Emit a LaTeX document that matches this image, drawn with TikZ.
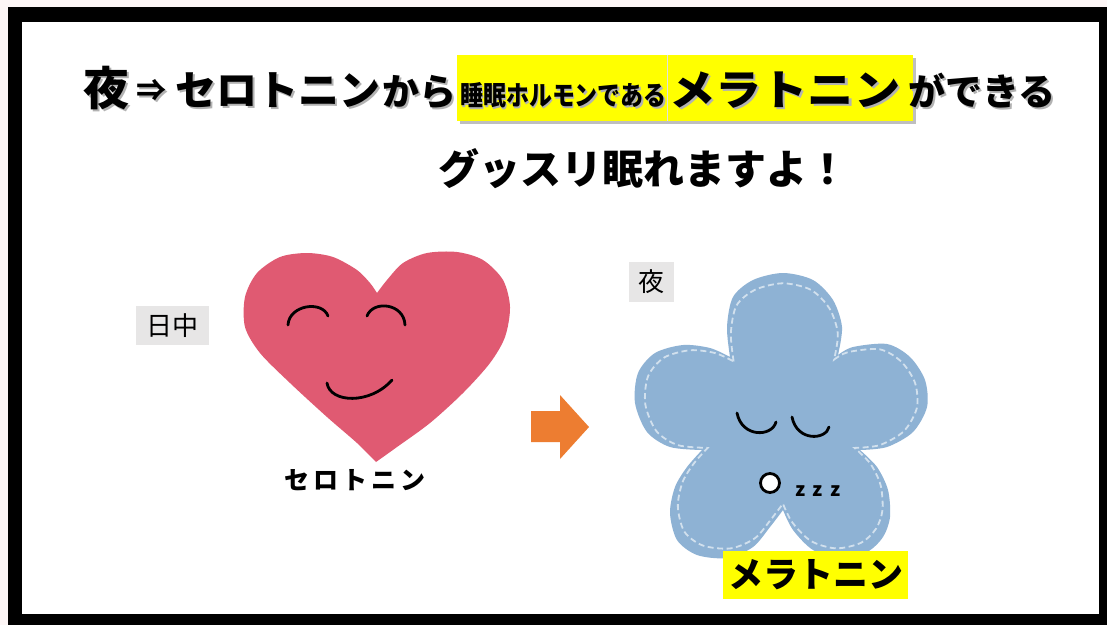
\documentclass[tikz,border=0pt]{standalone}
\usepackage{fontspec}
\setmainfont{Noto Sans CJK JP}
\usetikzlibrary{calc}

\definecolor{pagebg}{RGB}{253,246,246}
\definecolor{heartpink}{RGB}{224,90,114}
\definecolor{flowerblue}{RGB}{142,178,212}
\definecolor{arroworange}{RGB}{237,125,49}
\definecolor{labelgray}{RGB}{231,230,230}
\definecolor{marker}{RGB}{255,255,0}

% text with a soft drop shadow, used in the headline
\newcommand\shadowtext[1]{\makebox[0pt][l]{\hspace{2pt}\raisebox{-2pt}{\textcolor{black!30}{#1}}}#1}
\newcommand\fsz[1]{\fontsize{#1}{#1}\selectfont}

% outline of the five-petal flower, petal by petal
\newcommand\flowerpath{
  plot[smooth] coordinates {(730,357) (727,327) (733,297) (753,280) (783,273) (813,280) (833,300) (842,327) (838,355)}
  -- plot[smooth] coordinates {(838,355) (853,347) (887,344) (910,357) (925,380) (927,407) (913,432) (887,447) (860,450)}
  -- plot[smooth] coordinates {(860,450) (877,467) (888,490) (890,517) (883,537) (867,552) (840,558) (813,550) (793,530) (783,510)}
  -- plot[smooth] coordinates {(783,510) (770,527) (753,547) (727,558) (697,555) (677,540) (670,513) (675,487) (687,467) (702,450)}
  -- plot[smooth] coordinates {(702,450) (670,447) (647,432) (635,403) (638,373) (655,353) (683,345) (710,348) (730,357)}
  -- cycle}

\tikzset{
  face/.style={line width=2.8pt, line cap=round, black},
  headline/.style={anchor=base west, inner sep=0pt, font=\bfseries},
  tag/.style={fill=labelgray, inner sep=0pt, font=\fsz{26}},
  stitch/.style={white, opacity=0.6, line width=1.8pt, dash pattern=on 6pt off 3.5pt},
}

\begin{document}
\begin{tikzpicture}[x=1pt, y=-1pt]
  \useasboundingbox (0,0) rectangle (1107,625);
  % frame
  \fill[pagebg] (0,0) rectangle (1107,625);
  \fill[black] (8,7) rectangle (1107,625);
  \fill[white] (22,22) rectangle (1099,614);

  % highlighted part of the headline
  \fill[black!25] (460,58) rectangle (916,124);
  \fill[marker] (457,55) rectangle (667,121);
  \fill[marker] (667,55) rectangle (913,121);
  \draw[black!12, line width=0.6pt] (667,55) -- (667,121);

  % headline, first line
  \node[headline] (t1) at (83,105) {\fsz{46}\shadowtext{夜}};
  \node[headline] (t2) at (136,101) {\fsz{30}\shadowtext{⇒}};
  \node[headline] (t3) at (175,105) {\fsz{41}\shadowtext{セロトニン}};
  \node[headline] (t4) at (382,105) {\fsz{37}\shadowtext{から}};
  \node[headline] (t5) at (460,105) {\scalebox{0.85}[1]{\fsz{27}\shadowtext{睡眠ホルモンである}}};
  \node[headline] (t6) at (669,105) {\scalebox{1.1}[1]{\fsz{42}\shadowtext{メラトニン}}};
  \node[headline] (t7) at (908,105) {\fsz{37}\shadowtext{ができる}};

  % headline, second line
  \node[headline] (t8) at (438,184) {\fsz{41}グッスリ眠れますよ！};

  % heart
  \fill[heartpink]
    plot[smooth] coordinates {(377,293) (387,280) (403,263) (427,253) (457,252) (483,260) (503,280) (510,307) (505,337) (490,363) (463,393) (430,423) (397,447) (376,462)}
    -- plot[smooth] coordinates {(376,462) (357,443) (327,417) (290,383) (260,353) (245,327) (245,297) (257,273) (280,257) (307,253) (333,257) (357,270) (370,283) (377,293)}
    -- cycle;
  \draw[face] (288,325) .. controls (289,305) and (322,300) .. (328,316);
  \draw[face] (367,316) .. controls (373,300) and (404,303) .. (405,325);
  \draw[face] (327,383) .. controls (330,403) and (370,405) .. (392,380);

  \node[tag, minimum width=73pt, minimum height=39pt] (day) at (172.5,325.5) {日中};
  \node[inner sep=0pt, font=\bfseries\fsz{25}] (sero) at (355,480) {セ\,ロ\,ト\,ニ\,ン};

  % arrow
  \fill[arroworange] (531,411) -- (560,411) -- (560,395) -- (589,427) -- (560,459) -- (560,442) -- (531,442) -- cycle;

  % flower
  \fill[flowerblue] \flowerpath;
  \begin{scope}[shift={(782,420)}, scale=0.93, shift={(-782,-420)}]
    \draw[stitch] \flowerpath;
  \end{scope}
  \draw[face] (737,413) .. controls (742,438) and (772,437) .. (776,422);
  \draw[face] (792,417) .. controls (797,442) and (826,440) .. (829,427);
  \draw[face, fill=white] (770,483) circle (9.5);
  \node[anchor=base, inner sep=0pt, font=\bfseries\fsz{19}] (zzz) at (818,496) {z\hspace{7pt}z\hspace{7pt}z};

  \node[tag, minimum width=45pt, minimum height=40pt] (night) at (651.5,282) {夜};
  \node[fill=marker, minimum width=185pt, minimum height=48pt, inner sep=0pt, font=\bfseries\fsz{35}] (mela) at (815.5,575) {メラトニン};
\end{tikzpicture}
\end{document}
